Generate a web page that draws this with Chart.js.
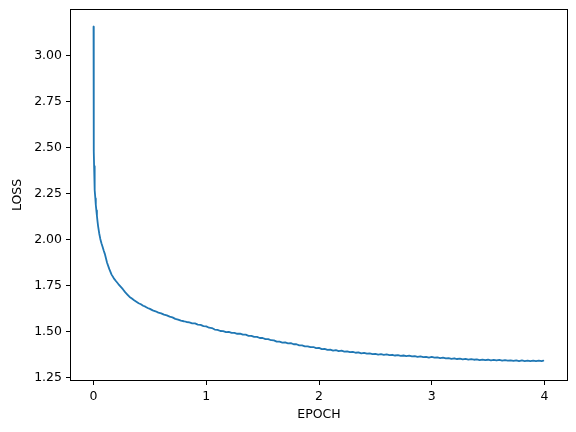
<!DOCTYPE html>
<html>
<head>
<meta charset="utf-8">
<script src="https://cdn.jsdelivr.net/npm/chart.js@4"></script>
<style>
html,body{margin:0;padding:0;background:#fff;}
#wrap{width:576px;height:432px;position:relative;}
</style>
</head>
<body>
<div id="wrap"><canvas id="c" width="576" height="432"></canvas></div>
<script>
const epochs = [0, 0.001, 0.002, 0.003, 0.005, 0.008, 0.012, 0.016, 0.02, 0.025, 0.03, 0.035, 0.04, 0.05, 0.06, 0.07, 0.08, 0.09,
  0.10, 0.12, 0.14, 0.16, 0.18, 0.20, 0.22, 0.24, 0.26, 0.28, 0.30, 0.32, 0.34, 0.36, 0.38, 0.40, 0.42, 0.44, 0.46, 0.48, 0.50,
  0.525, 0.55, 0.575, 0.60, 0.625, 0.65, 0.675, 0.70, 0.725, 0.75, 0.775, 0.80, 0.825, 0.85, 0.875, 0.90, 0.925, 0.95, 0.975,
  1.000, 1.025, 1.050, 1.075, 1.100, 1.125, 1.150, 1.175, 1.200, 1.225, 1.250, 1.275, 1.300, 1.325, 1.350, 1.375, 1.400, 1.425, 1.450, 1.475,
  1.500, 1.525, 1.550, 1.575, 1.600, 1.625, 1.650, 1.675, 1.700, 1.725, 1.750, 1.775, 1.800, 1.825, 1.850, 1.875, 1.900, 1.925, 1.950, 1.975,
  2.000, 2.025, 2.050, 2.075, 2.100, 2.125, 2.150, 2.175, 2.200, 2.225, 2.250, 2.275, 2.300, 2.325, 2.350, 2.375, 2.400, 2.425, 2.450, 2.475,
  2.500, 2.525, 2.550, 2.575, 2.600, 2.625, 2.650, 2.675, 2.700, 2.725, 2.750, 2.775, 2.800, 2.825, 2.850, 2.875, 2.900, 2.925, 2.950, 2.975,
  3.000, 3.025, 3.050, 3.075, 3.100, 3.125, 3.150, 3.175, 3.200, 3.225, 3.250, 3.275, 3.300, 3.325, 3.350, 3.375, 3.400, 3.425, 3.450, 3.475,
  3.500, 3.525, 3.550, 3.575, 3.600, 3.625, 3.650, 3.675, 3.700, 3.725, 3.750, 3.775, 3.800, 3.825, 3.850, 3.875, 3.900, 3.925, 3.950, 3.975, 3.990];

const loss = [3.157, 2.950, 2.700, 2.480, 2.400, 2.330, 2.270, 2.225, 2.190, 2.160, 2.130, 2.102, 2.076, 2.036, 2.005, 1.982, 1.962, 1.942,
  1.924, 1.876, 1.841, 1.811, 1.791, 1.775, 1.760, 1.746, 1.732, 1.716, 1.703, 1.690, 1.681, 1.672, 1.664, 1.656, 1.650, 1.642, 1.637, 1.630, 1.625,
  1.617, 1.612, 1.605, 1.601, 1.594, 1.590, 1.583, 1.579, 1.571, 1.567, 1.561, 1.558, 1.554, 1.552, 1.547, 1.546, 1.540, 1.538, 1.532,
  1.530, 1.523, 1.521, 1.513, 1.511, 1.505, 1.504, 1.499, 1.500, 1.495, 1.495, 1.490, 1.491, 1.485, 1.485, 1.479, 1.479, 1.473, 1.473, 1.467,
  1.467, 1.461, 1.461, 1.455, 1.454, 1.447, 1.447, 1.442, 1.443, 1.438, 1.439, 1.433, 1.433, 1.427, 1.427, 1.422, 1.422, 1.417, 1.418, 1.412,
  1.413, 1.407, 1.408, 1.403, 1.404, 1.399, 1.401, 1.396, 1.398, 1.393, 1.394, 1.390, 1.392, 1.387, 1.389, 1.384, 1.386, 1.382, 1.383, 1.379,
  1.381, 1.377, 1.379, 1.376, 1.378, 1.374, 1.376, 1.372, 1.374, 1.370, 1.372, 1.369, 1.371, 1.367, 1.369, 1.365, 1.367, 1.363, 1.365, 1.361,
  1.364, 1.360, 1.362, 1.358, 1.360, 1.356, 1.358, 1.354, 1.357, 1.353, 1.355, 1.351, 1.354, 1.350, 1.352, 1.349, 1.351, 1.347, 1.350, 1.347,
  1.349, 1.346, 1.348, 1.345, 1.348, 1.344, 1.347, 1.344, 1.346, 1.343, 1.346, 1.342, 1.345, 1.342, 1.344, 1.341, 1.344, 1.341, 1.344, 1.341, 1.344];

const xTicks = [0, 1, 2, 3, 4];
const yTicks = [1.25, 1.50, 1.75, 2.00, 2.25, 2.50, 2.75, 3.00];
const xLabel = 'EPOCH';
const yLabel = 'LOSS';

const points = epochs.map((e, i) => ({x: e, y: loss[i]}));

Chart.defaults.font.family = '"DejaVu Sans", sans-serif';
Chart.defaults.font.size = 12.5;
Chart.defaults.color = '#000';

const frame = {
  id: 'frame',
  afterDraw(chart) {
    const {ctx, chartArea: a} = chart;
    ctx.save();
    ctx.strokeStyle = '#000';
    ctx.lineWidth = 1;
    ctx.strokeRect(Math.round(a.left) - 0.5, Math.round(a.top) - 0.5, Math.round(a.right - a.left) + 1, Math.round(a.bottom - a.top) + 1);
    ctx.restore();
  }
};

new Chart(document.getElementById('c'), {
  type: 'line',
  data: {
    datasets: [{
      data: points,
      borderColor: '#1f77b4',
      borderWidth: 1.8,
      borderJoinStyle: 'round',
      borderCapStyle: 'round',
      pointRadius: 0,
      tension: 0,
      fill: false
    }]
  },
  options: {
    responsive: false,
    animation: false,
    events: [],
    layout: {padding: {left: 0, right: 9, top: 10, bottom: 0}},
    plugins: {legend: {display: false}, tooltip: {enabled: false}},
    scales: {
      x: {
        type: 'linear',
        min: -0.2,
        max: 4.2,
        afterFit: s => { s.height = 52; s.paddingLeft = 0; s.paddingRight = 0; },
        afterBuildTicks: s => { s.ticks = xTicks.map(v => ({value: v})); },
        ticks: {padding: 4, maxRotation: 0, callback: v => String(v)},
        grid: {drawOnChartArea: false, drawTicks: true, tickLength: 5, tickColor: '#000', tickWidth: 1},
        border: {display: false},
        title: {display: true, text: xLabel, padding: {top: 0, bottom: 10}}
      },
      y: {
        type: 'linear',
        min: 1.239,
        max: 3.248,
        afterFit: s => { s.width = 71; s.paddingTop = 0; s.paddingBottom = 0; },
        afterBuildTicks: s => { s.ticks = yTicks.map(v => ({value: v})); },
        ticks: {padding: 4, callback: v => Number(v).toFixed(2)},
        grid: {drawOnChartArea: false, drawTicks: true, tickLength: 5, tickColor: '#000', tickWidth: 1},
        border: {display: false},
        title: {display: true, text: yLabel, padding: {top: 10, bottom: 0}}
      }
    }
  },
  plugins: [frame]
});
</script>
</body>
</html>
